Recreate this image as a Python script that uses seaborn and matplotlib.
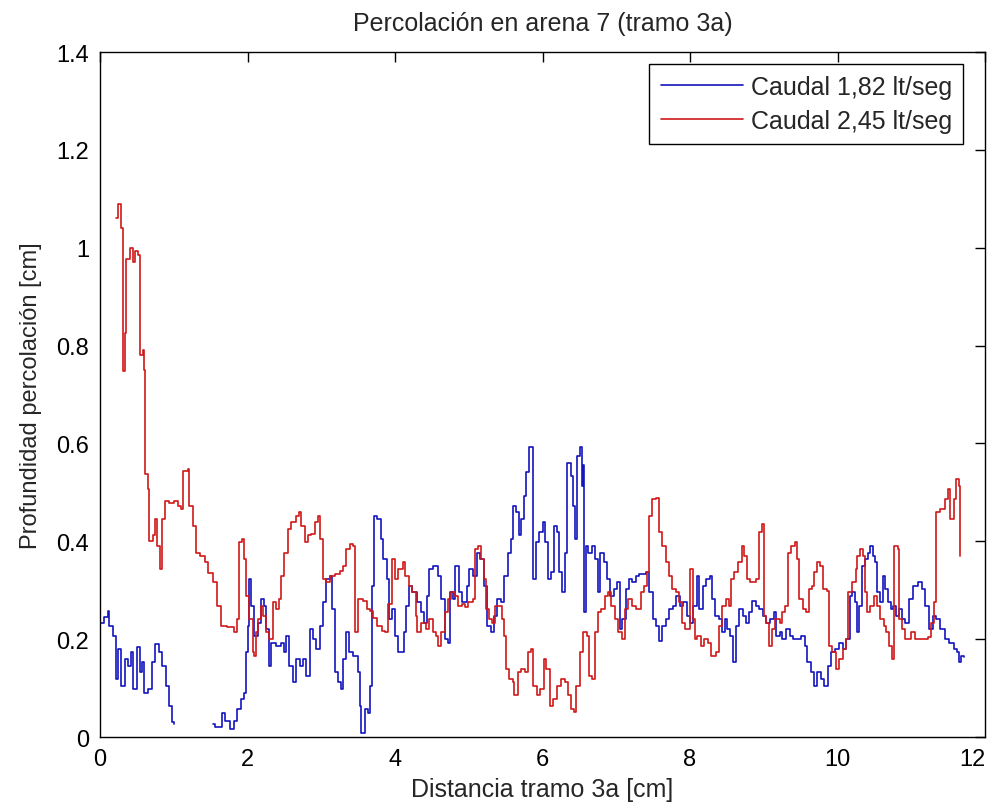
import numpy as np
import pandas as pd
import matplotlib
matplotlib.use("Agg")
import matplotlib.pyplot as plt
import seaborn as sns

# ── datos ───────────────────────────────────────────────────────────────
# caudal 1,82 lt/seg (azul), dos tramos: hay un hueco entre ~1.0 y ~1.5 cm
azul_a_x = [0.009, 0.05, 0.102, 0.125, 0.171, 0.218, 0.241, 0.287, 0.333, 0.38,
            0.426, 0.449, 0.495, 0.542, 0.565, 0.602, 0.657, 0.704, 0.75, 0.796,
            0.843, 0.889, 0.935, 0.981, 1.005]
azul_a_y = [0.234, 0.245, 0.258, 0.227, 0.207, 0.119, 0.18, 0.105, 0.16, 0.146,
            0.173, 0.098, 0.183, 0.132, 0.153, 0.091, 0.098, 0.153, 0.19, 0.173,
            0.146, 0.105, 0.064, 0.03, 0.027]

azul_b_x = [1.537, 1.56, 1.653, 1.699, 1.769, 1.815, 1.861, 1.907, 1.954, 1.977,
            2.0, 2.023, 2.045, 2.091, 2.136, 2.182, 2.227, 2.25, 2.286, 2.318,
            2.386, 2.455, 2.5, 2.523, 2.568, 2.614, 2.659, 2.705, 2.75, 2.795,
            2.841, 2.886, 2.932, 2.977, 3.023, 3.068, 3.114, 3.15, 3.182, 3.227,
            3.273, 3.295, 3.332, 3.377, 3.432, 3.5, 3.532, 3.545, 3.591, 3.636,
            3.659, 3.682, 3.714, 3.759, 3.805, 3.841, 3.886, 3.923, 3.955, 4.0,
            4.045, 4.116, 4.153, 4.185, 4.231, 4.301, 4.347, 4.394, 4.44, 4.463,
            4.509, 4.556, 4.588, 4.625, 4.671, 4.718, 4.741, 4.787, 4.819, 4.866,
            4.903, 4.972, 5.005, 5.051, 5.111, 5.157, 5.204, 5.25, 5.296, 5.343,
            5.389, 5.435, 5.481, 5.528, 5.574, 5.606, 5.644, 5.681, 5.713, 5.745,
            5.782, 5.819, 5.866, 5.875, 5.912, 5.958, 6.005, 6.037, 6.069, 6.116,
            6.162, 6.198, 6.23, 6.262, 6.299, 6.336, 6.382, 6.414, 6.446, 6.474,
            6.506, 6.529, 6.552, 6.566, 6.584, 6.621, 6.667, 6.713, 6.749, 6.782,
            6.828, 6.874, 6.92, 6.966, 7.011, 7.044, 7.08, 7.126, 7.172, 7.218,
            7.264, 7.31, 7.356, 7.402, 7.448, 7.494, 7.54, 7.577, 7.623, 7.669,
            7.715, 7.77, 7.816, 7.862, 7.908, 7.963, 8.0, 8.046, 8.092, 8.12,
            8.169, 8.217, 8.265, 8.299, 8.337, 8.386, 8.434, 8.472, 8.506, 8.54,
            8.578, 8.617, 8.665, 8.713, 8.761, 8.795, 8.843, 8.892, 8.94, 8.988,
            9.036, 9.084, 9.133, 9.166, 9.214, 9.253, 9.301, 9.349, 9.398, 9.455,
            9.504, 9.552, 9.59, 9.639, 9.687, 9.725, 9.773, 9.822, 9.87, 9.918,
            9.966, 10.014, 10.072, 10.12, 10.171, 10.195, 10.234, 10.268, 10.293,
            10.332, 10.366, 10.415, 10.439, 10.478, 10.512, 10.537, 10.576, 10.61,
            10.644, 10.683, 10.722, 10.756, 10.79, 10.829, 10.878, 10.921, 10.964,
            11.025, 11.086, 11.148, 11.19, 11.239, 11.288, 11.33, 11.391, 11.451,
            11.513, 11.574, 11.616, 11.653, 11.678, 11.714]
azul_b_y = [0.027, 0.02, 0.05, 0.033, 0.016, 0.033, 0.057, 0.078, 0.091, 0.173,
            0.227, 0.323, 0.268, 0.207, 0.234, 0.282, 0.268, 0.221, 0.146, 0.193,
            0.187, 0.193, 0.173, 0.207, 0.146, 0.112, 0.16, 0.146, 0.16, 0.125,
            0.221, 0.2, 0.18, 0.227, 0.275, 0.323, 0.33, 0.261, 0.132, 0.112,
            0.098, 0.16, 0.214, 0.173, 0.166, 0.132, 0.064, 0.009, 0.057, 0.05,
            0.105, 0.309, 0.452, 0.446, 0.405, 0.364, 0.323, 0.241, 0.261, 0.207,
            0.173, 0.214, 0.268, 0.309, 0.296, 0.275, 0.255, 0.234, 0.289, 0.343,
            0.35, 0.35, 0.33, 0.282, 0.2, 0.193, 0.296, 0.282, 0.35, 0.296,
            0.275, 0.309, 0.343, 0.33, 0.377, 0.364, 0.309, 0.227, 0.214, 0.248,
            0.282, 0.275, 0.33, 0.377, 0.405, 0.473, 0.459, 0.412, 0.446, 0.493,
            0.541, 0.592, 0.588, 0.323, 0.398, 0.419, 0.439, 0.398, 0.323, 0.337,
            0.432, 0.419, 0.337, 0.296, 0.377, 0.561, 0.534, 0.473, 0.405, 0.575,
            0.592, 0.514, 0.555, 0.255, 0.391, 0.377, 0.391, 0.364, 0.296, 0.377,
            0.357, 0.323, 0.289, 0.303, 0.316, 0.221, 0.241, 0.303, 0.323, 0.316,
            0.33, 0.333, 0.333, 0.337, 0.296, 0.241, 0.227, 0.197, 0.227, 0.241,
            0.261, 0.268, 0.289, 0.268, 0.275, 0.248, 0.234, 0.268, 0.33, 0.261,
            0.309, 0.323, 0.33, 0.282, 0.248, 0.241, 0.214, 0.241, 0.221, 0.207,
            0.153, 0.227, 0.261, 0.248, 0.234, 0.255, 0.279, 0.268, 0.261, 0.248,
            0.234, 0.241, 0.255, 0.207, 0.214, 0.2, 0.221, 0.207, 0.2, 0.2,
            0.207, 0.187, 0.153, 0.132, 0.105, 0.132, 0.119, 0.105, 0.146, 0.173,
            0.18, 0.193, 0.18, 0.2, 0.289, 0.296, 0.275, 0.214, 0.268,
            0.35, 0.364, 0.377, 0.391, 0.371, 0.357, 0.296, 0.275, 0.33,
            0.303, 0.275, 0.261, 0.268, 0.248, 0.261, 0.241, 0.234, 0.282,
            0.309, 0.316, 0.303, 0.268, 0.221, 0.248, 0.241, 0.221, 0.2,
            0.193, 0.18, 0.173, 0.153, 0.166, 0.163]

# caudal 2,45 lt/seg (rojo)
rojo_x = [0.218, 0.241, 0.287, 0.31, 0.333, 0.356, 0.403, 0.449, 0.472, 0.519,
          0.542, 0.588, 0.6, 0.611, 0.648, 0.667, 0.713, 0.75, 0.773, 0.819,
          0.843, 0.88, 0.935, 1.005, 1.051, 1.097, 1.12, 1.19, 1.213, 1.259,
          1.306, 1.352, 1.421, 1.468, 1.537, 1.583, 1.639, 1.722, 1.815, 1.861,
          1.884, 1.931, 1.954, 1.977, 2.023, 2.068, 2.091, 2.114, 2.136, 2.182,
          2.205, 2.25, 2.295, 2.341, 2.386, 2.423, 2.455, 2.5, 2.545, 2.591,
          2.659, 2.695, 2.727, 2.773, 2.818, 2.864, 2.909, 2.955, 2.986, 3.023,
          3.068, 3.114, 3.182, 3.25, 3.295, 3.341, 3.386, 3.432, 3.455, 3.5,
          3.568, 3.614, 3.659, 3.705, 3.75, 3.818, 3.864, 3.909, 3.955, 4.0,
          4.045, 4.105, 4.139, 4.185, 4.231, 4.278, 4.301, 4.347, 4.417, 4.463,
          4.509, 4.556, 4.588, 4.625, 4.671, 4.718, 4.764, 4.81, 4.856, 4.903,
          4.949, 4.995, 5.051, 5.088, 5.125, 5.171, 5.204, 5.236, 5.273, 5.319,
          5.356, 5.412, 5.449, 5.481, 5.505, 5.551, 5.597, 5.62, 5.667, 5.713,
          5.759, 5.806, 5.843, 5.875, 5.921, 5.968, 6.014, 6.051, 6.097, 6.144,
          6.19, 6.253, 6.299, 6.345, 6.391, 6.428, 6.46, 6.506, 6.552, 6.598,
          6.63, 6.676, 6.713, 6.749, 6.795, 6.841, 6.887, 6.933, 6.979, 7.025,
          7.08, 7.117, 7.163, 7.218, 7.264, 7.333, 7.379, 7.411, 7.439, 7.485,
          7.54, 7.577, 7.623, 7.669, 7.715, 7.761, 7.807, 7.853, 7.885, 7.931,
          8.0, 8.037, 8.069, 8.096, 8.145, 8.193, 8.241, 8.289, 8.347, 8.386,
          8.434, 8.482, 8.53, 8.554, 8.602, 8.651, 8.699, 8.733, 8.771, 8.819,
          8.892, 8.94, 8.973, 9.002, 9.036, 9.07, 9.108, 9.157, 9.214, 9.253,
          9.292, 9.325, 9.373, 9.422, 9.455, 9.484, 9.533, 9.566, 9.614, 9.648,
          9.687, 9.725, 9.759, 9.807, 9.855, 9.889, 9.928, 9.976, 10.024, 10.072,
          10.12, 10.146, 10.195, 10.244, 10.268, 10.302, 10.341, 10.366, 10.4,
          10.439, 10.488, 10.537, 10.576, 10.624, 10.659, 10.693, 10.732, 10.771,
          10.82, 10.839, 10.878, 10.921, 10.995, 11.055, 11.148, 11.226, 11.269,
          11.311, 11.336, 11.391, 11.451, 11.495, 11.531, 11.574, 11.604, 11.653,
          11.665]
rojo_y = [1.06, 1.089, 1.04, 0.748, 0.826, 0.978, 1.0, 0.97, 0.993, 0.985,
          0.78, 0.79, 0.75, 0.537, 0.507, 0.401, 0.412, 0.446, 0.391, 0.343,
          0.446, 0.483, 0.479, 0.483, 0.473, 0.466, 0.544, 0.548, 0.473, 0.432,
          0.377, 0.37, 0.357, 0.336, 0.316, 0.268, 0.227, 0.224, 0.214, 0.241,
          0.398, 0.405, 0.364, 0.289, 0.241, 0.173, 0.166, 0.214, 0.241, 0.268,
          0.248, 0.214, 0.2, 0.275, 0.261, 0.282, 0.33, 0.377, 0.425, 0.439,
          0.452, 0.459, 0.432, 0.398, 0.412, 0.415, 0.439, 0.452, 0.405, 0.323,
          0.316, 0.33, 0.333, 0.34, 0.35, 0.384, 0.395, 0.391, 0.214, 0.282,
          0.278, 0.261, 0.258, 0.244, 0.227, 0.217, 0.214, 0.272, 0.364, 0.323,
          0.343, 0.357, 0.33, 0.309, 0.296, 0.248, 0.214, 0.234, 0.221, 0.241,
          0.214, 0.207, 0.187, 0.214, 0.255, 0.282, 0.296, 0.289, 0.268, 0.272,
          0.265, 0.275, 0.282, 0.384, 0.391, 0.364, 0.323, 0.261, 0.241, 0.234,
          0.268, 0.268, 0.241, 0.207, 0.139, 0.119, 0.112, 0.085, 0.132, 0.139,
          0.132, 0.173, 0.18, 0.105, 0.085, 0.098, 0.16, 0.139, 0.064, 0.078,
          0.105, 0.119, 0.112, 0.085, 0.057, 0.051, 0.105, 0.173, 0.214, 0.207,
          0.125, 0.119, 0.214, 0.255, 0.261, 0.289, 0.296, 0.268, 0.241, 0.214,
          0.2, 0.261, 0.282, 0.268, 0.261, 0.296, 0.309, 0.337, 0.452, 0.486,
          0.489, 0.419, 0.391, 0.357, 0.33, 0.303, 0.296, 0.275, 0.234, 0.221,
          0.343, 0.241, 0.2, 0.207, 0.187, 0.2, 0.193, 0.166, 0.173, 0.227,
          0.268, 0.282, 0.268, 0.323, 0.337, 0.357, 0.391, 0.371, 0.323, 0.316,
          0.323, 0.419, 0.436, 0.248, 0.234, 0.187, 0.221, 0.241, 0.234, 0.255,
          0.268, 0.377, 0.391, 0.398, 0.364, 0.282, 0.261, 0.255, 0.303, 0.309,
          0.337, 0.357, 0.35, 0.303, 0.299, 0.187, 0.173, 0.139, 0.16, 0.18,
          0.2, 0.296, 0.316, 0.343, 0.371, 0.384, 0.371, 0.296, 0.255,
          0.268, 0.289, 0.268, 0.241, 0.227, 0.214, 0.187, 0.16, 0.391,
          0.384, 0.241, 0.221, 0.2, 0.214, 0.2, 0.2, 0.204, 0.234,
          0.275, 0.459, 0.466, 0.486, 0.507, 0.446, 0.486, 0.527, 0.514,
          0.371]

series_labels = ["Caudal 1,82 lt/seg", "Caudal 2,45 lt/seg"]
x_ticks = [0, 2, 4, 6, 8, 10, 12]
y_ticks = [0, 0.2, 0.4, 0.6, 0.8, 1.0, 1.2, 1.4]
y_tick_labels = ["0", "0.2", "0.4", "0.6", "0.8", "1", "1.2", "1.4"]

# ── tabla larga para seaborn ────────────────────────────────────────────
df = pd.concat([
    pd.DataFrame({"x": azul_a_x, "y": azul_a_y, "serie": series_labels[0], "tramo": 0}),
    pd.DataFrame({"x": azul_b_x, "y": azul_b_y, "serie": series_labels[0], "tramo": 1}),
    pd.DataFrame({"x": rojo_x, "y": rojo_y, "serie": series_labels[1], "tramo": 2}),
], ignore_index=True)

sns.set_style("white")
plt.rcParams["font.family"] = ["Liberation Sans", "DejaVu Sans"]

fig = plt.figure(figsize=(9.93, 8.12), dpi=100)
ax = fig.add_axes([0.1007, 0.0911, 0.8913, 0.8436])

palette = {series_labels[0]: "#1414c0", series_labels[1]: "#d01818"}
sns.lineplot(
    data=df, x="x", y="y", hue="serie", units="tramo", estimator=None,
    palette=palette, drawstyle="steps-post", linewidth=1.2, sort=False, ax=ax,
)

ax.set_xlim(0, 12)
ax.set_ylim(0, 1.4)
ax.set_xticks(x_ticks)
ax.set_xticklabels([str(t) for t in x_ticks])
ax.set_yticks(y_ticks)
ax.set_yticklabels(y_tick_labels)
ax.tick_params(direction="in", length=7, width=1, labelsize=17, pad=8,
               top=True, right=True, colors="black")
# el ultimo rotulo (12) queda pegado al borde derecho de la figura
ax.get_xticklabels()[-1].set_horizontalalignment("right")
for s in ax.spines.values():
    s.set_visible(True)
    s.set_color("black")
    s.set_linewidth(1.0)

ax.set_title("Percolación en arena 7 (tramo 3a)", fontsize=18, pad=16)
ax.set_xlabel("Distancia tramo 3a [cm]", fontsize=18, labelpad=5)
ax.set_ylabel("Profundidad percolación [cm]", fontsize=17, labelpad=10)

handles, labels = ax.get_legend_handles_labels()
leg = ax.legend(handles[-2:], labels[-2:], loc="upper right",
                bbox_to_anchor=(0.975, 0.983), borderaxespad=0,
                fontsize=18, handlelength=3.3, handletextpad=0.3,
                labelspacing=0.4, borderpad=0.45, frameon=True, fancybox=False,
                framealpha=1, edgecolor="black")
leg.get_frame().set_linewidth(1.0)

fig.savefig("out.png", dpi=100)
